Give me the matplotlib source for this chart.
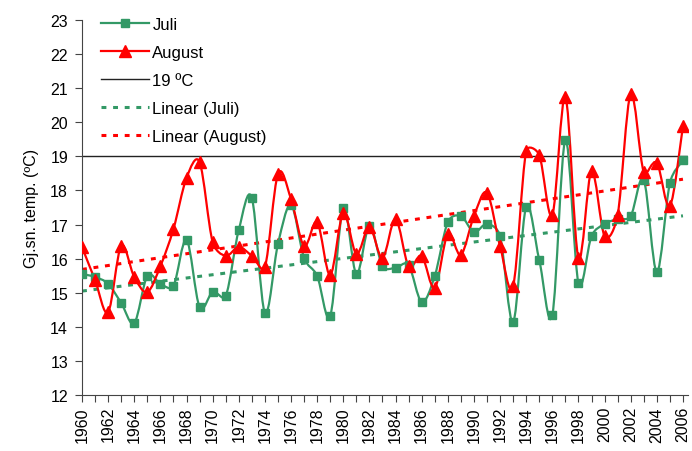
import matplotlib
matplotlib.use("Agg")
import matplotlib.pyplot as plt
import numpy as np
from matplotlib.path import Path
from matplotlib.patches import PathPatch
from matplotlib.lines import Line2D

plt.rcParams['font.family'] = ['Liberation Sans', 'DejaVu Sans']

years = np.arange(1960, 2007)

juli = [15.55, 15.46, 15.26, 14.70, 14.11, 15.49, 15.26, 15.20, 16.55, 14.58,
        15.02, 14.90, 16.84, 17.78, 14.41, 16.43, 17.57, 16.02, 15.49, 14.32,
        17.49, 15.55, 16.96, 15.78, 15.73, 15.81, 14.73, 15.49, 17.07, 17.25,
        16.78, 17.02, 16.66, 14.14, 17.51, 15.96, 14.35, 19.48, 15.29, 16.66,
        17.02, 17.16, 17.25, 18.31, 15.61, 18.22, 18.89]

august = [16.34, 15.37, 14.43, 16.37, 15.46, 15.02, 15.78, 16.87, 18.37, 18.83,
          16.49, 16.08, 16.34, 16.08, 15.75, 18.48, 17.75, 16.37, 17.07, 15.52,
          17.34, 16.14, 16.93, 16.02, 17.16, 15.78, 16.08, 15.14, 16.72, 16.11,
          17.25, 17.93, 16.37, 15.20, 19.16, 19.04, 17.28, 20.74, 16.02, 18.57,
          16.66, 17.28, 20.83, 18.54, 18.81, 17.54, 19.89]

limit = 19

GREEN = '#339966'
RED = '#ff0000'

XLIM = (1960, 2006.4)
YLIM = (12, 23)
AX_RECT = [0.1185, 0.124, 0.876, 0.8295]
FIGSIZE = (6.92, 4.52)


def smooth_path(x, y, sx, sy):
    # Excel-like smoothed line: cubic bezier with tangents from neighbours,
    # control arm capped at half the segment length (measured on screen)
    p = np.column_stack([np.asarray(x) * sx, np.asarray(y) * sy]).astype(float)
    n = len(p)

    def arm(a, b, prev, nxt):
        t = nxt - prev
        lt = np.hypot(*t)
        if lt == 0:
            return a
        seg = np.hypot(*(b - a))
        length = min(lt / 6.0, seg / 2.0)
        return a + t / lt * length

    verts = [p[0]]
    codes = [Path.MOVETO]
    for i in range(n - 1):
        p0 = p[i - 1] if i > 0 else p[i]
        p1 = p[i]
        p2 = p[i + 1]
        p3 = p[i + 2] if i + 2 < n else p[i + 1]
        c1 = arm(p1, p2, p0, p2)
        c2 = arm(p2, p1, p3, p1)
        verts += [c1, c2, p2]
        codes += [Path.CURVE4] * 3
    verts = np.array(verts)
    verts[:, 0] /= sx
    verts[:, 1] /= sy
    return Path(verts, codes)


fig = plt.figure(figsize=FIGSIZE, dpi=100)
ax = fig.add_axes(AX_RECT)

# pixels per data unit, so the smoothing is done in screen proportions
sx = FIGSIZE[0] * 100 * AX_RECT[2] / (XLIM[1] - XLIM[0])
sy = FIGSIZE[1] * 100 * AX_RECT[3] / (YLIM[1] - YLIM[0])

for vals, col in [(juli, GREEN), (august, RED)]:
    ax.add_patch(PathPatch(smooth_path(years, vals, sx, sy), fill=False,
                           edgecolor=col, lw=1.6, zorder=3))

ax.plot(years, juli, 's', color=GREEN, ms=6, zorder=4)
ax.plot(years, august, '^', color=RED, ms=8.5, zorder=5)

ax.axhline(limit, color='#222222', lw=1.0, zorder=2)

# linear trends
for vals, col in [(juli, GREEN), (august, RED)]:
    m, c = np.polyfit(years, vals, 1)
    ax.plot(years, m * years + c, color=col, lw=2.2, dashes=(1.6, 2.2), zorder=2)

ax.set_xlim(*XLIM)
ax.set_ylim(*YLIM)
ax.set_yticks(np.arange(12, 24, 1))
ax.set_xticks(np.arange(1960, 2007, 2))
ax.set_xticks(years, minor=True)
ax.set_xticklabels([str(y) for y in range(1960, 2007, 2)], rotation=90)
ax.tick_params(axis='both', which='both', direction='out', length=5, width=0.8,
               labelsize=11.5, color='#444444')
ax.tick_params(axis='y', pad=5)
ax.tick_params(axis='x', pad=3)
for s in ['top', 'right']:
    ax.spines[s].set_visible(False)
for s in ['left', 'bottom']:
    ax.spines[s].set_linewidth(0.8)
    ax.spines[s].set_color('#444444')

ax.set_ylabel('Gj.sn. temp. (ºC)', fontsize=11.5, labelpad=8)

handles = [
    Line2D([], [], color=GREEN, lw=1.6, marker='s', ms=6),
    Line2D([], [], color=RED, lw=1.6, marker='^', ms=8.5),
    Line2D([], [], color='#222222', lw=1.0),
    Line2D([], [], color=GREEN, lw=2.2, dashes=(1.6, 2.2)),
    Line2D([], [], color=RED, lw=2.2, dashes=(1.6, 2.2)),
]
labels = ['Juli', 'August', '19 ºC', 'Linear (Juli)', 'Linear (August)']
ax.legend(handles, labels, loc='upper left', bbox_to_anchor=(0.02, 1.025),
          frameon=False, fontsize=12, handlelength=2.9, handletextpad=0.2,
          labelspacing=0.78, borderaxespad=0)

fig.savefig('out.png', dpi=100)
